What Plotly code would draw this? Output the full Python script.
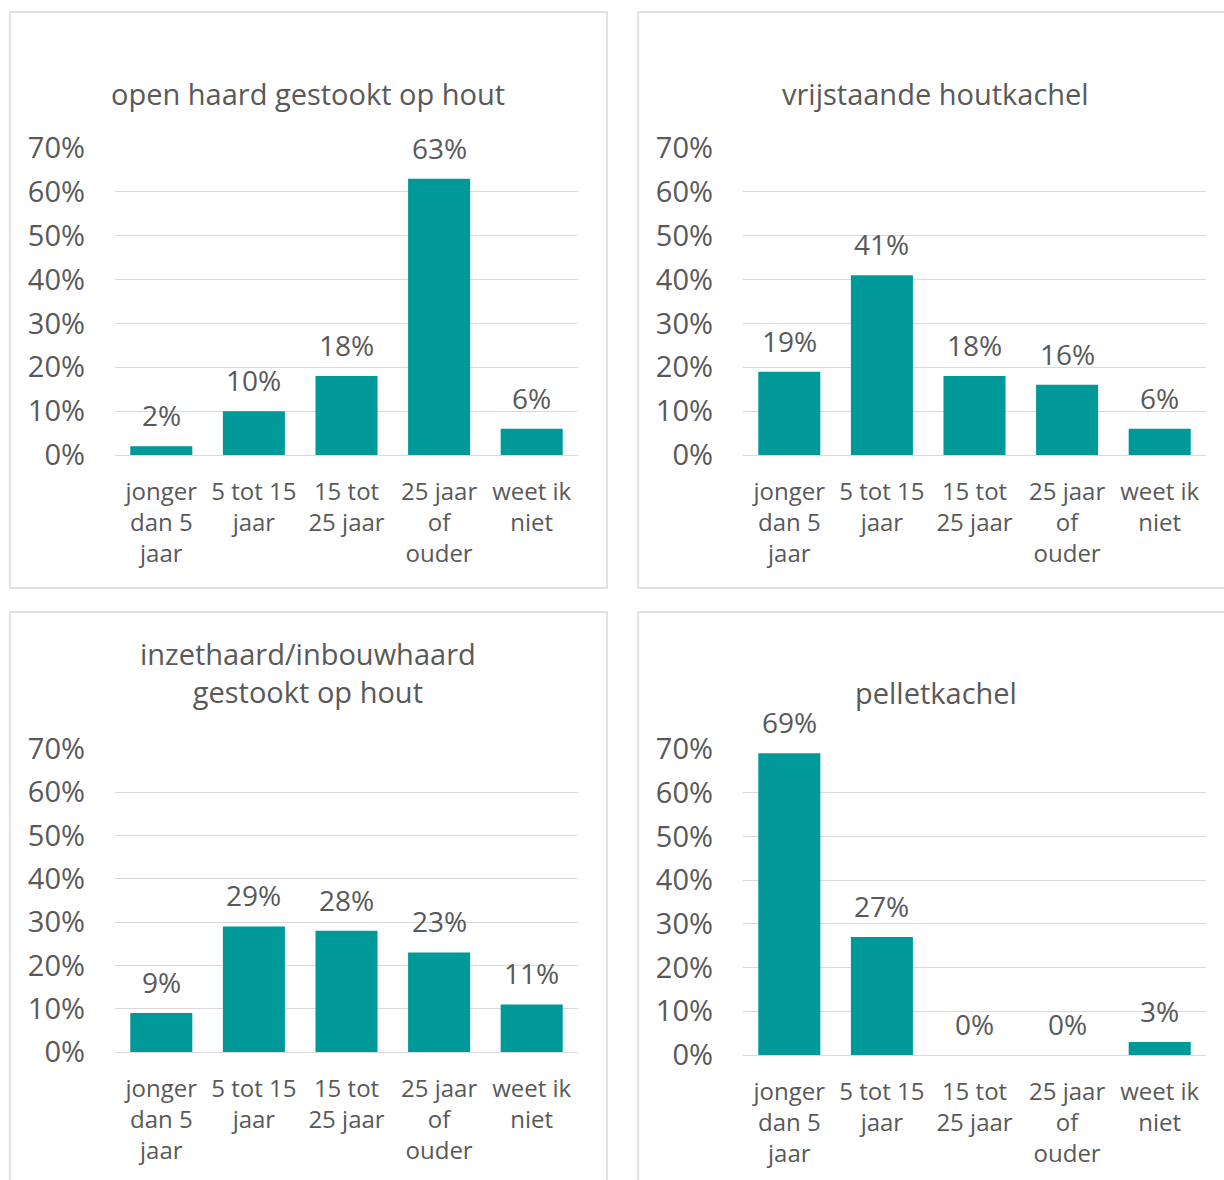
import plotly.graph_objects as go

W, H = 1224, 1180

categories = ["jonger<br>dan 5<br>jaar", "5 tot 15<br>jaar", "15 tot<br>25 jaar",
              "25 jaar<br>of<br>ouder", "weet ik<br>niet"]
titles = ["open haard gestookt op hout", "vrijstaande houtkachel",
          "inzethaard/inbouwhaard<br>gestookt op hout", "pelletkachel"]
open_haard = [2, 10, 18, 63, 6]
vrijstaande = [19, 41, 18, 16, 6]
inzethaard = [9, 29, 28, 23, 11]
pelletkachel = [69, 27, 0, 0, 3]
series = [open_haard, vrijstaande, inzethaard, pelletkachel]
y_ticks = [0, 10, 20, 30, 40, 50, 60, 70]

TEXT = "#595959"
GRID = "#d9d9d9"
BAR = "#009999"
FONT = "Open Sans"

def px(x):
    return x / W

def py(y):
    return 1 - y / H

areas = [(115, 578, 148, 455), (743, 1206, 148, 455),
         (115, 578, 749, 1052), (743, 1206, 749, 1055)]
title_pos = [(308, 93), (936, 93), (308, 672), (936, 692)]
boxes = [(10, 607, 12, 588), (638, 1240, 12, 588),
         (10, 607, 612, 1200), (638, 1240, 612, 1200)]

fig = go.Figure()
layout = dict(width=W, height=H, margin=dict(l=0, r=0, t=0, b=0, pad=0, autoexpand=False),
              paper_bgcolor="white", plot_bgcolor="white", showlegend=False,
              font=dict(family=FONT, color=TEXT, size=24),
              bargap=0.33)
shapes = []
annotations = []
for i, (vals, area) in enumerate(zip(series, areas)):
    n = "" if i == 0 else str(i + 1)
    xs = list(range(len(categories)))
    fig.add_trace(go.Bar(x=xs, y=vals,
                         marker=dict(color=BAR, line=dict(width=0)),
                         cliponaxis=False, xaxis="x" + n, yaxis="y" + n,
                         hoverinfo="skip"))
    for xv, v in zip(xs, vals):
        annotations.append(dict(text=f"{v}%", x=xv, y=v, xref="x" + n, yref="y" + n,
                                xanchor="center", yanchor="middle", yshift=31,
                                showarrow=False,
                                font=dict(size=28, color=TEXT, family=FONT)))
    x0, x1, yt, yb = area
    layout["xaxis" + n] = dict(domain=[px(x0), px(x1)], anchor="y" + n,
                               range=[-0.5, 4.5], tickmode="array",
                               tickvals=xs, ticktext=categories, showgrid=False,
                               zeroline=False, showline=False, ticks="",
                               automargin=False, ticklabelstandoff=20,
                               tickfont=dict(size=24, color=TEXT, family=FONT))
    layout["yaxis" + n] = dict(domain=[py(yb), py(yt)], anchor="x" + n,
                               range=[0, 70], tickmode="array", tickvals=y_ticks,
                               ticktext=[f"{v}%" for v in y_ticks],
                               showgrid=True, gridcolor=GRID, gridwidth=1.3,
                               zeroline=True, zerolinecolor=GRID, zerolinewidth=1.3,
                               showline=False, ticks="", ticklabelstandoff=29,
                               automargin=False,
                               tickfont=dict(size=29, color=TEXT, family=FONT))
    tx, ty = title_pos[i]
    annotations.append(dict(text=titles[i], x=px(tx), y=py(ty), xref="paper",
                            yref="paper", xanchor="center", yanchor="middle",
                            showarrow=False,
                            font=dict(size=29, color=TEXT, family=FONT)))
    bx0, bx1, by0, by1 = boxes[i]
    shapes.append(dict(type="rect", xref="paper", yref="paper",
                       x0=px(bx0), x1=px(bx1), y0=py(by1), y1=py(by0),
                       line=dict(color=GRID, width=1.5), fillcolor="rgba(0,0,0,0)"))

layout["shapes"] = shapes
layout["annotations"] = annotations
fig.update_layout(**layout)
fig.write_html("out.html", config={"displayModeBar": False},
               post_script="document.body.style.margin='0';document.body.style.overflow='hidden';")
